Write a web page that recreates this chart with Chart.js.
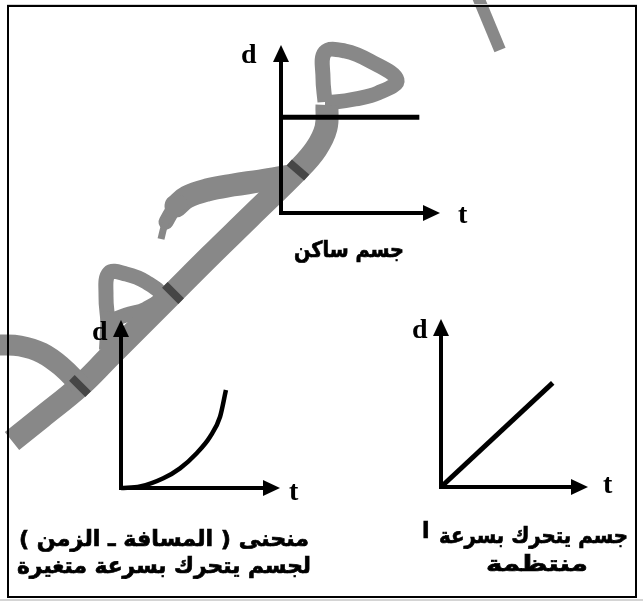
<!DOCTYPE html>
<html>
<head>
<meta charset="utf-8">
<script src="https://cdn.jsdelivr.net/npm/chart.js@4.4.1/dist/chart.umd.min.js"></script>
<style>
  html, body { margin: 0; padding: 0; background: #fff; }
  #stage { position: relative; width: 643px; height: 601px; overflow: hidden; background: #fff; }
  #stage canvas { position: absolute; }
  .frame { position: absolute; left: 7px; top: 5px; width: 630px; height: 593px; box-sizing: border-box; border: 2px solid #000; }
  .edge { position: absolute; background: #d4d4d4; }
  .lbl { position: absolute; font-family: "Liberation Serif", "Times New Roman", serif; font-weight: bold; font-size: 28px; line-height: 28px; color: #000; white-space: nowrap; }
  .ar { position: absolute; font-family: "DejaVu Sans", sans-serif; font-weight: bold; font-size: 22px; line-height: 27px; color: #000; white-space: nowrap; direction: rtl; -webkit-text-stroke: 0.7px #000; transform-origin: 0 0; }
</style>
</head>
<body>
<div id="stage">
  <canvas id="wm" width="643" height="601" style="left:0;top:0;width:643px;height:601px"></canvas>
  <div class="edge" style="left:7px;top:4px;width:630px;height:1px"></div>
  <div class="edge" style="left:0;top:599px;width:643px;height:2px"></div>
  <div class="frame"></div>
  <canvas id="g1"></canvas>
  <canvas id="g2"></canvas>
  <canvas id="g3"></canvas>
</div>
<script>
// ---------------- DATA ----------------
const axisLabelD = "d";
const axisLabelT = "t";
const captionStationary = ["جسم ساكن"];
const captionVariable = ["منحنى ( المسافة ـ الزمن )", "لجسم يتحرك بسرعة متغيرة"];
const captionUniform = ["جسم يتحرك بسرعة", "منتظمة"];
const strayLetter = "ا";

// graph 1: body at rest (d constant)
const restT = [0, 8.7];
const restD = [5.7, 5.7];
// graph 2: variable speed (curve)
const varT = [0, 1.2, 2.66, 3.71, 4.76, 5.6, 6.23, 6.6];
const varD = [0, 0.09, 0.58, 1.17, 2.07, 3.05, 4.24, 5.83];
// graph 3: uniform speed (straight line)
const uniT = [0, 7.6];
const uniD = [0, 6.2];
const axisMax = 10;

// watermark strokes (page units)
const wmDiagonal = [[12,441],[42,417],[80,386],[110,356],[140,326],[173,293],[210,256],[250,217],[298,170],[316,149],[326,128],[327,105]];
const wmUpperLoop = [[325,102],[323,78],[325,52],[345,51],[370,61],[397,80],[378,93],[355,99],[335,102],[325,102]];
const wmLowerLoop = [[108,322],[106,296],[109,273],[126,274],[146,282],[161,296],[146,309],[126,315],[108,322]];
const wmLowerJoin = [[110,312],[108,350]];
const wmHookTip = [[161,239],[164,227],[168,217]];
const wmHookMid = [[166,222],[173,210],[180,203]];
const wmHook = [[176,206],[187,197],[207,190],[233,185],[260,181],[290,176]];
const wmTail = [[-2,345],[20,346],[42,353],[62,367],[80,385]];
const wmAlif = [[478,-3],[500,50]];
const wmMarks = [
  [[77.2,388.8],[82.8,383.2]],
  [[170.2,295.8],[175.8,290.2]],
  [[295.4,173],[300.6,167]]
];

// ---------------- WATERMARK CHART ----------------
const WM_GRAY = "#888888";
const WM_DARK = "#464646";
function stroke(points, width, color, tension, cap) {
  return {
    data: points.map(p => ({ x: p[0], y: p[1] })),
    borderColor: color, backgroundColor: color, borderWidth: width,
    pointRadius: 0, tension: tension, fill: false,
    borderCapStyle: cap || "butt", borderJoinStyle: "round", clip: false
  };
}
// Chart.js paints index 0 last (on top): marks first
const wmSets = [
  ...wmMarks.map(m => stroke(m, 23, WM_DARK, 0)),
  stroke(wmTail, 21, WM_GRAY, 0.4),
  stroke(wmDiagonal, 23, WM_GRAY, 0.4),
  stroke(wmLowerJoin, 18, WM_GRAY, 0),
  stroke(wmLowerLoop, 15, WM_GRAY, 0.4),
  stroke(wmUpperLoop, 15, WM_GRAY, 0.4),
  stroke(wmHookTip, 7, WM_GRAY, 0.3),
  stroke(wmHookMid, 15, WM_GRAY, 0.3, "round"),
  stroke(wmHook, 23, WM_GRAY, 0.4, "round"),
  stroke(wmAlif, 12, WM_GRAY, 0)
];
new Chart(document.getElementById("wm"), {
  type: "line",
  data: { datasets: wmSets },
  options: {
    responsive: false, animation: false, events: [],
    layout: { padding: 0 },
    plugins: { legend: { display: false }, tooltip: { enabled: false }, title: { display: false } },
    scales: {
      x: { type: "linear", min: 0, max: 643, display: false },
      y: { type: "linear", min: 0, max: 601, reverse: true, display: false }
    }
  }
});

// ---------------- GRAPH CHARTS ----------------
const PAD = 14;
const axesArrows = {
  id: "axesArrows",
  beforeDatasetsDraw(chart) {
    const { ctx, scales: { x, y } } = chart;
    const x0 = x.getPixelForValue(0), y0 = y.getPixelForValue(0);
    const xe = x.getPixelForValue(x.max), ye = y.getPixelForValue(y.max);
    const AL = 17, AW = 8;
    ctx.save();
    ctx.strokeStyle = "#000"; ctx.fillStyle = "#000"; ctx.lineWidth = 4; ctx.lineCap = "butt";
    ctx.beginPath();
    ctx.moveTo(x0, y0 + 2); ctx.lineTo(x0, ye + AL - 1);
    ctx.moveTo(x0 - 2, y0); ctx.lineTo(xe - AL + 1, y0);
    ctx.stroke();
    ctx.beginPath(); ctx.moveTo(x0, ye); ctx.lineTo(x0 - AW, ye + AL); ctx.lineTo(x0 + AW, ye + AL); ctx.closePath(); ctx.fill();
    ctx.beginPath(); ctx.moveTo(xe, y0); ctx.lineTo(xe - AL, y0 - AW); ctx.lineTo(xe - AL, y0 + AW); ctx.closePath(); ctx.fill();
    ctx.restore();
  }
};
function makeGraph(id, ox, oy, w, h, ts, ds, lw, mode) {
  const cv = document.getElementById(id);
  cv.width = w + 2 * PAD; cv.height = h + 2 * PAD;
  cv.style.left = (ox - PAD) + "px"; cv.style.top = (oy - h - PAD) + "px";
  cv.style.width = cv.width + "px"; cv.style.height = cv.height + "px";
  new Chart(cv, {
    type: "line",
    data: { datasets: [{
      data: ts.map((t, i) => ({ x: t, y: ds[i] })),
      borderColor: "#000", borderWidth: lw, pointRadius: 0, fill: false,
      cubicInterpolationMode: mode, tension: 0, borderCapStyle: "butt", clip: false
    }] },
    options: {
      responsive: false, animation: false, events: [],
      layout: { padding: PAD },
      plugins: { legend: { display: false }, tooltip: { enabled: false } },
      scales: {
        x: { type: "linear", min: 0, max: axisMax, display: false },
        y: { type: "linear", min: 0, max: axisMax, display: false }
      }
    },
    plugins: [axesArrows]
  });
}
makeGraph("g1", 281, 213, 159, 168, restT, restD, 5, "default");
makeGraph("g2", 121, 488, 159, 168, varT, varD, 4.5, "monotone");
makeGraph("g3", 441, 487, 147, 168, uniT, uniD, 5, "default");

// ---------------- TEXT ----------------
const stage = document.getElementById("stage");
function addText(cls, txt, css) {
  const el = document.createElement("div");
  el.className = cls; el.textContent = txt;
  Object.assign(el.style, css);
  stage.appendChild(el);
  return el;
}
function fitLine(txt, x1, x2, top) {
  const el = addText("ar", txt, { left: x1 + "px", top: top + "px" });
  const w = el.getBoundingClientRect().width;
  el.style.transform = "scaleX(" + ((x2 - x1) / w).toFixed(4) + ")";
  return el;
}
addText("lbl", axisLabelD, { left: "241px", top: "40px" });
addText("lbl", axisLabelT, { left: "458px", top: "200px" });
addText("lbl", axisLabelD, { left: "92px", top: "317px" });
addText("lbl", axisLabelT, { left: "289px", top: "477px" });
addText("lbl", axisLabelD, { left: "412px", top: "315px" });
addText("lbl", axisLabelT, { left: "603px", top: "470px" });

fitLine(captionStationary[0], 294, 404, 236);
fitLine(captionVariable[0], 19, 309, 525);
fitLine(captionVariable[1], 17, 311, 552);
fitLine(captionUniform[0], 439, 628, 522);
addText("ar", strayLetter, { left: "422px", top: "517px" });
fitLine(captionUniform[1], 486, 588, 550);
</script>
</body>
</html>
